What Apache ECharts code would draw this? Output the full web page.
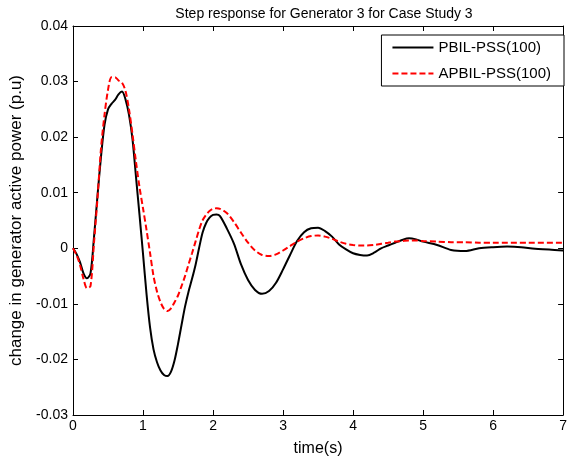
<!DOCTYPE html>
<html>
<head>
<meta charset="utf-8">
<script src="https://cdn.jsdelivr.net/npm/echarts@6/dist/echarts.min.js"></script>
<style>html,body{margin:0;padding:0;background:#fff}#c{width:570px;height:465px}</style>
</head>
<body>
<div id="c"></div>
<script>
var timeBlack = [0,0.05,0.1,0.15,0.2,0.25,0.3,0.35,0.4,0.45,0.5,0.55,0.6,0.65,0.7,0.75,0.8,0.85,0.9,0.95,1.0,1.05,1.1,1.15,1.2,1.25,1.3,1.35,1.4,1.45,1.5,1.55,1.6,1.65,1.7,1.75,1.8,1.85,1.9,1.95,2.0,2.05,2.1,2.2,2.3,2.4,2.5,2.6,2.7,2.8,2.9,3.0,3.1,3.2,3.3,3.4,3.5,3.6,3.7,3.8,3.9,4.0,4.1,4.2,4.3,4.4,4.5,4.6,4.7,4.8,4.9,5.0,5.2,5.4,5.6,5.8,6.0,6.2,6.4,6.6,6.8,7.0];
var pbil = [0,-0.001,-0.0025,-0.0045,-0.0054,-0.0045,0.002,0.0095,0.0165,0.0222,0.025,0.026,0.0267,0.0277,0.0282,0.0268,0.024,0.0196,0.0128,0.006,-0.001,-0.0082,-0.0142,-0.0182,-0.0205,-0.022,-0.0228,-0.023,-0.0222,-0.0202,-0.0172,-0.0138,-0.0105,-0.0078,-0.0055,-0.003,0.0,0.0028,0.0045,0.0055,0.006,0.0061,0.0058,0.0035,0.0008,-0.0029,-0.0057,-0.0075,-0.0082,-0.0077,-0.0062,-0.0038,-0.0012,0.0013,0.0029,0.0036,0.0037,0.0031,0.0021,0.0007,-0.0002,-0.0009,-0.0012,-0.0013,-0.0008,0.0,0.0005,0.001,0.0015,0.0018,0.0016,0.0012,0.0006,-0.0003,-0.0005,0.0,0.0002,0.0003,0.0002,-0.0001,-0.0002,-0.0004];
var timeRed = [0,0.05,0.1,0.15,0.2,0.25,0.3,0.35,0.4,0.45,0.5,0.55,0.6,0.65,0.7,0.75,0.8,0.85,0.9,0.95,1.0,1.05,1.1,1.15,1.2,1.25,1.3,1.35,1.4,1.45,1.5,1.55,1.6,1.65,1.7,1.75,1.8,1.85,1.9,1.95,2.0,2.05,2.1,2.2,2.3,2.4,2.5,2.6,2.7,2.8,2.9,3.0,3.1,3.2,3.3,3.4,3.5,3.6,3.7,3.8,3.9,4.0,4.1,4.2,4.3,4.4,4.5,4.6,4.7,4.8,4.9,5.0,5.2,5.4,5.6,5.8,6.0,6.5,7.0];
var apbil = [0,-0.0012,-0.003,-0.0055,-0.0072,-0.0068,0.001,0.009,0.018,0.024,0.0285,0.0308,0.0308,0.0302,0.0298,0.0283,0.025,0.0205,0.0155,0.011,0.0072,0.0033,-0.0008,-0.005,-0.0078,-0.0097,-0.0109,-0.0113,-0.0108,-0.0097,-0.0085,-0.0068,-0.005,-0.0029,-0.0009,0.0012,0.0033,0.005,0.006,0.0067,0.0071,0.0072,0.0071,0.0063,0.0047,0.0028,0.001,-0.0004,-0.0012,-0.0014,-0.0011,-0.0004,0.0004,0.0012,0.0018,0.0022,0.0023,0.0021,0.0017,0.0012,0.0008,0.0006,0.0005,0.0005,0.0006,0.0008,0.001,0.0012,0.0013,0.0014,0.0014,0.0013,0.0012,0.0011,0.0011,0.001,0.001,0.001,0.001];
var xTicks = [0,1,2,3,4,5,6,7];
var yTicks = [-0.03,-0.02,-0.01,0,0.01,0.02,0.03,0.04];

function pairs(t, v){ return t.map(function(x,i){ return [x, v[i]]; }); }
function fmtY(v){ var r = Math.round(v*100)/100; return r === 0 ? '0' : r.toFixed(2); }

var font = 'Liberation Sans, Arial, sans-serif';
var chart = echarts.init(document.getElementById('c'));
var axLine = {show:true, onZero:false, lineStyle:{color:'#000', width:1}};
var tick = {inside:true, length:5, lineStyle:{color:'#000'}};
chart.setOption({
  animation:false,
  backgroundColor:'#fff',
  title:{text:'Step response for Generator 3 for Case Study 3', left:319, top:2, textAlign:'center',
    textStyle:{fontFamily:font, fontSize:14, fontWeight:'normal', color:'#000'}},
  grid:{left:73, right:3, top:26, bottom:50},
  legend:{right:6, top:35, orient:'vertical', itemWidth:41, itemHeight:12, itemGap:11,
    borderColor:'#000', borderWidth:1, backgroundColor:'#fff', padding:[5,13,5,10],
    itemStyle:{opacity:0},
    textStyle:{fontFamily:font, fontSize:15, color:'#000'},
    data:['PBIL-PSS(100)','APBIL-PSS(100)']},
  xAxis:[
    {type:'value', min:0, max:7, interval:1, position:'bottom', axisLine:axLine,
     axisTick:tick, splitLine:{show:false},
     axisLabel:{fontFamily:font, fontSize:14, color:'#000', margin:4},
     name:'time(s)', nameLocation:'middle', nameGap:26,
     nameTextStyle:{fontFamily:font, fontSize:16, color:'#000'}},
    {type:'value', min:0, max:7, interval:1, position:'top', axisLine:axLine,
     axisTick:tick, axisLabel:{show:false}, splitLine:{show:false}}
  ],
  yAxis:[
    {type:'value', min:-0.03, max:0.04, interval:0.01, position:'left', axisLine:axLine,
     axisTick:tick, splitLine:{show:false},
     axisLabel:{fontFamily:font, fontSize:14, color:'#000', margin:5, formatter:fmtY},
     name:'change in generator active power (p.u)', nameLocation:'middle', nameGap:46,
     nameTextStyle:{fontFamily:font, fontSize:17, color:'#000'}},
    {type:'value', min:-0.03, max:0.04, interval:0.01, position:'right', axisLine:axLine,
     axisTick:tick, axisLabel:{show:false}, splitLine:{show:false}}
  ],
  series:[
    {name:'PBIL-PSS(100)', type:'line', data:pairs(timeBlack, pbil), symbol:'none', smooth:0.3,
     lineStyle:{color:'#000', width:2}, itemStyle:{color:'#000'}},
    {name:'APBIL-PSS(100)', type:'line', data:pairs(timeRed, apbil), symbol:'none', smooth:0.3,
     lineStyle:{color:'#ff0000', width:2, type:[6,3]}, itemStyle:{color:'#ff0000'}}
  ]
});
</script>
</body>
</html>
